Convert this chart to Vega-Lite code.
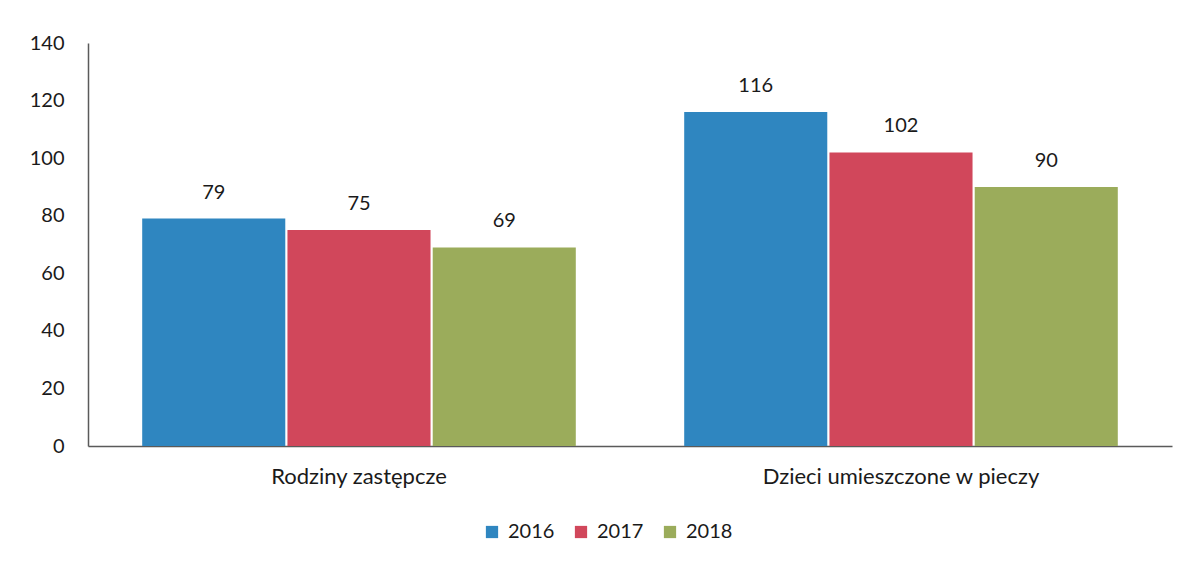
{
  "$schema": "https://vega.github.io/schema/vega-lite/v6.json",
  "autosize": "none",
  "width": 1084,
  "height": 403,
  "padding": {"left": 88, "top": 43, "right": 14, "bottom": 117},
  "background": "#ffffff",
  "config": {
    "view": {"stroke": null},
    "font": "Lato",
    "axis": {"labelFont": "Lato", "labelColor": "#1a1a1a"},
    "legend": {"labelFont": "Lato"}
  },
  "data": {
    "values": [
      {"kategoria": "Rodziny zastępcze", "rok": "2016", "wartosc": 79},
      {"kategoria": "Rodziny zastępcze", "rok": "2017", "wartosc": 75},
      {"kategoria": "Rodziny zastępcze", "rok": "2018", "wartosc": 69},
      {"kategoria": "Dzieci umieszczone w pieczy", "rok": "2016", "wartosc": 116},
      {"kategoria": "Dzieci umieszczone w pieczy", "rok": "2017", "wartosc": 102},
      {"kategoria": "Dzieci umieszczone w pieczy", "rok": "2018", "wartosc": 90}
    ]
  },
  "encoding": {
    "x": {
      "field": "kategoria",
      "type": "nominal",
      "sort": ["Rodziny zastępcze", "Dzieci umieszczone w pieczy"],
      "scale": {"paddingInner": 0.2, "paddingOuter": 0.1},
      "axis": {
        "title": null,
        "labelAngle": 0,
        "labelFontSize": 22,
        "labelLimit": 0,
        "labelPadding": 20,
        "ticks": false,
        "domainColor": "#5a5a5a",
        "domainWidth": 1.5
      }
    },
    "xOffset": {
      "field": "rok",
      "type": "nominal",
      "scale": {"paddingInner": 0.015}
    },
    "y": {
      "field": "wartosc",
      "type": "quantitative",
      "scale": {"domain": [0, 140], "nice": false},
      "axis": {
        "title": null,
        "values": [0, 20, 40, 60, 80, 100, 120, 140],
        "labelFontSize": 20,
        "labelPadding": 24,
        "ticks": false,
        "grid": false,
        "domainColor": "#5a5a5a",
        "domainWidth": 1.5
      }
    }
  },
  "layer": [
    {
      "mark": {"type": "bar"},
      "encoding": {
        "color": {
          "field": "rok",
          "type": "nominal",
          "scale": {
            "domain": ["2016", "2017", "2018"],
            "range": ["#2f86c0", "#d1475b", "#9bac5b"]
          },
          "legend": {
            "title": null,
            "orient": "none",
            "direction": "horizontal",
            "legendX": 394,
            "legendY": 479,
            "symbolType": "square",
            "symbolSize": 150,
            "symbolStrokeWidth": 0,
            "labelFontSize": 20,
            "labelColor": "#1a1a1a",
            "columnPadding": 16,
            "labelOffset": 6
          }
        }
      }
    },
    {
      "mark": {"type": "text", "baseline": "bottom", "dy": -16, "fontSize": 20, "color": "#1a1a1a"},
      "encoding": {
        "text": {"field": "wartosc", "type": "quantitative"}
      }
    }
  ]
}
